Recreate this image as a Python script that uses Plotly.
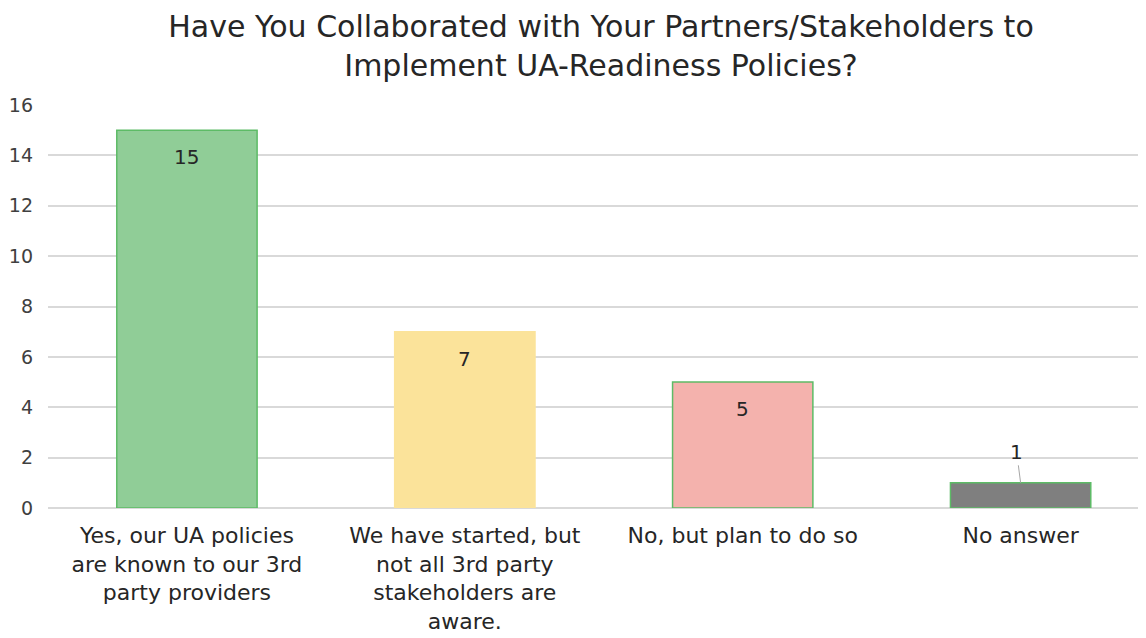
import plotly.graph_objects as go

categories = [
    "Yes, our UA policies<br>are known to our 3rd<br>party providers",
    "We have started, but<br>not all 3rd party<br>stakeholders are<br>aware.",
    "No, but plan to do so",
    "No answer",
]
values = [15, 7, 5, 1]
fill_colors = ["#90CD97", "#FBE39A", "#F4B2AD", "#7F7F7F"]
line_colors = ["#5DBB66", "#FBE39A", "#5DBB66", "#5DBB66"]
y_ticks = [0, 2, 4, 6, 8, 10, 12, 14, 16]
title_text = "Have You Collaborated with Your Partners/Stakeholders to<br>Implement UA-Readiness Policies?"

FONT = "DejaVu Sans, Arial, sans-serif"

fig = go.Figure()
fig.add_trace(go.Bar(
    x=list(range(len(categories))),
    y=values,
    marker=dict(color=fill_colors, line=dict(color=line_colors, width=1.5)),
    width=0.505,
    hoverinfo="skip",
))

for i, v in enumerate(values):
    if v >= 3:
        fig.add_annotation(x=i, y=v, text=str(v), showarrow=False, yshift=-27,
                           font=dict(size=20, color="#262626", family=FONT))
    else:
        fig.add_annotation(x=i, y=v, text=str(v), showarrow=True, arrowhead=0,
                           arrowwidth=1, arrowcolor="#A6A6A6", ax=-4, ay=-31,
                           font=dict(size=20, color="#262626", family=FONT))

fig.update_layout(
    width=1146, height=638,
    margin=dict(l=40, r=0, t=97, b=138),
    paper_bgcolor="white", plot_bgcolor="white",
    font=dict(family=FONT, color="#404040"),
    title=dict(text=title_text, xref="paper", x=0.5, xanchor="center",
               yref="container", y=0.955, yanchor="top",
               font=dict(size=30, color="#262626", family=FONT)),
    showlegend=False,
    bargap=0.5,
)
fig.update_xaxes(
    tickmode="array", tickvals=list(range(len(categories))), ticktext=categories,
    range=[-0.5, len(categories) - 0.5 - 0.02],
    showgrid=False, showline=False, ticks="",
    tickfont=dict(size=22, color="#262626", family=FONT), ticklabelstandoff=12,
)
fig.update_yaxes(
    range=[0, 16], tickvals=y_ticks, showgrid=True, gridcolor="#D9D9D9", gridwidth=1.5,
    zeroline=True, zerolinecolor="#D9D9D9", zerolinewidth=1.5,
    tickfont=dict(size=19, color="#404040", family=FONT), ticks="", ticklabelstandoff=14,
)

fig.write_html("out.html")
